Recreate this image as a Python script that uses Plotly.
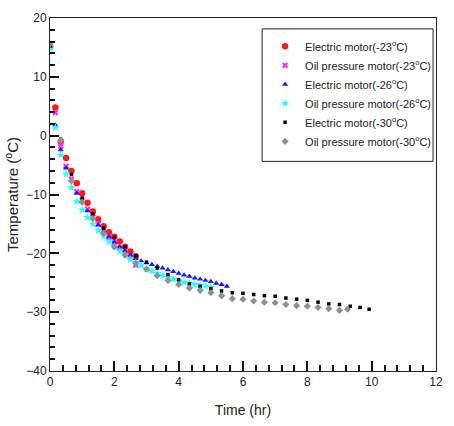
import plotly.graph_objects as go

t6 = [i / 6 for i in range(40)]
t3 = [i / 3 for i in range(40)]

red_T = [15.2, 4.8, -1.0, -3.8, -6.0, -8.1, -9.8, -11.4, -12.9, -14.2, -15.4, -16.4,
         -17.2, -18.0, -18.9, -19.7, -20.5]
mag_T = [15.0, 3.9, -1.8, -5.2, -7.4, -9.5, -11.0, -12.5, -13.8, -15.0, -16.2, -17.3,
         -18.2, -19.1, -19.9, -20.7, -22.0]
blue_T = [15.0, 1.8, -2.4, -5.5, -7.6, -9.8, -11.2, -12.8, -14.0, -15.2, -16.3, -17.2,
          -18.1, -18.9, -19.6, -20.3, -20.9, -21.3, -21.6, -21.9, -22.2, -22.5, -22.8,
          -23.1, -23.4, -23.7, -23.9, -24.2, -24.4, -24.6, -24.8, -25.1, -25.3, -25.6]
cyan_T = [14.7, 1.4, -3.3, -6.5, -8.8, -11.2, -12.6, -13.9, -15.0, -16.1, -17.1, -18.0,
          -18.8, -19.6, -20.3, -21.0, -21.6, -22.1, -22.6, -23.0, -23.4, -23.8, -24.1,
          -24.4, -24.7, -24.9, -25.1, -25.3, -25.5, -25.6, -25.8]
black_T = [15.3, -0.6, -6.6, -10.6, -13.3, -15.7, -17.3, -18.9, -20.4, -21.5, -22.5,
           -23.6, -24.5, -25.2, -25.6, -26.0, -26.4, -26.7, -26.8, -27.0, -27.2, -27.3,
           -27.6, -27.8, -28.0, -28.3, -28.6, -28.7, -29.0, -29.2, -29.5]
grey_T = [15.6, -0.8, -7.7, -11.3, -14.1, -16.6, -18.9, -20.3, -21.7, -22.7, -23.8,
          -24.6, -25.3, -25.9, -26.3, -26.7, -27.2, -27.7, -27.8, -28.1, -28.3, -28.4,
          -28.7, -28.9, -29.0, -29.2, -29.4, -29.7, -29.5]

black_t = t3[:29] + [9.64, 9.92]
grey_t = t3[:27] + [9.0, 9.25]

series = [
    ("Electric motor(-23<sup>o</sup>C)", t6[:len(red_T)], red_T, "#ff1a1a", "circle", 6.5),
    ("Oil pressure motor(-23<sup>o</sup>C)", t6[:len(mag_T)], mag_T, "#ff2bff", "x", 5.5),
    ("Electric motor(-26<sup>o</sup>C)", t6[:len(blue_T)], blue_T, "#1a1aff", "triangle-up", 5.5),
    ("Oil pressure motor(-26<sup>o</sup>C)", t6[:len(cyan_T)], cyan_T, "#22ffff", "star", 6.5),
    ("Electric motor(-30<sup>o</sup>C)", black_t, black_T, "#000000", "square", 3.5),
    ("Oil pressure motor(-30<sup>o</sup>C)", grey_t, grey_T, "#909090", "diamond", 5.5),
]

fig = go.Figure()
for name, x, y, c, sym, sz in series:
    fig.add_trace(go.Scatter(x=x, y=y, mode="markers", name=name,
                             marker=dict(color=c, symbol=sym, size=sz, line=dict(width=0))))

PW, PH = 393, 357  # plot area size in px (x 50..443, y 15..372)

# legend frame
fig.add_shape(type="rect", xref="paper", yref="paper",
              x0=(266 - 50) / PW, x1=(440 - 50) / PW,
              y0=(372 - 160) / PH, y1=(372 - 26) / PH,
              line=dict(color="#222", width=1), fillcolor="rgba(0,0,0,0)", layer="above")

font = "Liberation Sans, Arial, sans-serif"
fig.update_layout(
    width=454, height=426,
    margin=dict(l=50, r=11, t=15, b=54),
    paper_bgcolor="white", plot_bgcolor="white",
    font=dict(family=font, size=12, color="#222"),
    showlegend=True,
    legend=dict(x=(269 - 50) / PW, y=(372 - 29) / PH, xanchor="left", yanchor="top",
                borderwidth=0, bgcolor="rgba(0,0,0,0)",
                font=dict(size=11, color="#222"), itemwidth=30),
)
fig.update_xaxes(range=[0, 12], dtick=2, tick0=0, tickmode="linear", showline=True,
                 linecolor="#222", linewidth=1, mirror=True,
                 ticks="inside", ticklen=10, tickwidth=1.5, tickcolor="#111",
                 showgrid=False, zeroline=False,
                 minor=dict(dtick=0.4, tick0=0, ticks="inside", ticklen=6, tickwidth=1.5,
                            tickcolor="#111", showgrid=False),
                 title=dict(text="Time (hr)", font=dict(size=14), standoff=16))
fig.update_yaxes(range=[-40, 20], dtick=10, tick0=0, tickmode="linear", showline=True,
                 linecolor="#222", linewidth=1, mirror=True,
                 ticks="inside", ticklen=9, tickwidth=1.5, tickcolor="#111",
                 showgrid=False, zeroline=False,
                 minor=dict(dtick=2, tick0=0, ticks="inside", ticklen=5, tickwidth=1.5,
                            tickcolor="#111", showgrid=False),
                 title=dict(text="Temperature (<sup>o</sup>C)", font=dict(size=15), standoff=3))

fig.write_html("out.html")
